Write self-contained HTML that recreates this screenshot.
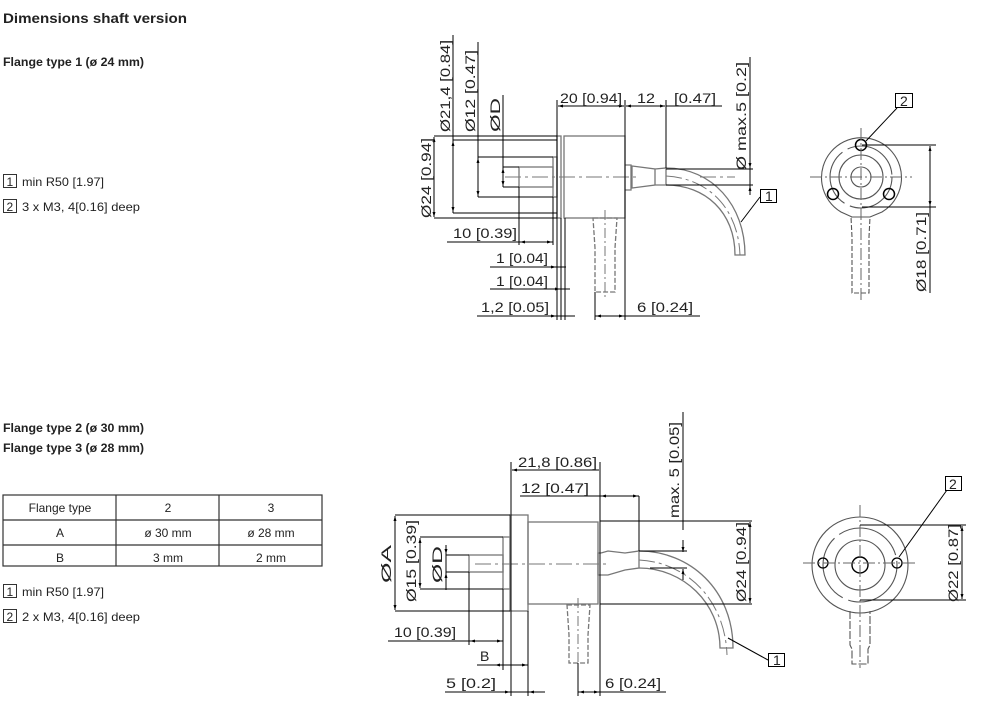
<!DOCTYPE html>
<html><head><meta charset="utf-8"><style>
html,body{margin:0;padding:0;background:#fff;}
svg{display:block;}
text{font-family:"Liberation Sans",sans-serif;fill:#222;}
.b{font-weight:bold;}
.d{font-size:14px;}
.s{font-size:12px;}
</style></head><body>
<svg width="982" height="717" viewBox="0 0 982 717" xmlns="http://www.w3.org/2000/svg">
<defs>
<marker id="a" viewBox="0 0 10 10" refX="10" refY="5" markerWidth="7" markerHeight="5" orient="auto-start-reverse"><path d="M0,2 L10,5 L0,8 z" fill="#000"/></marker>
</defs>
<text x="3" y="23" class="b" font-size="14" textLength="184" lengthAdjust="spacingAndGlyphs">Dimensions shaft version</text>
<text x="3" y="66" class="b" font-size="12" textLength="141" lengthAdjust="spacingAndGlyphs">Flange type 1 (ø 24 mm)</text>
<rect x="3.5" y="174.5" width="13" height="13" fill="none" stroke="#333"/><text x="6.5" y="186" class="s">1</text>
<text x="22" y="186" class="s" textLength="82" lengthAdjust="spacingAndGlyphs">min R50 [1.97]</text>
<rect x="3.5" y="199.5" width="13" height="13" fill="none" stroke="#333"/><text x="6.5" y="211" class="s">2</text>
<text x="22" y="211" class="s" textLength="118" lengthAdjust="spacingAndGlyphs">3 x M3, 4[0.16] deep</text>

<text x="3" y="432" class="b" font-size="12" textLength="141" lengthAdjust="spacingAndGlyphs">Flange type 2 (ø 30 mm)</text>
<text x="3" y="452" class="b" font-size="12" textLength="141" lengthAdjust="spacingAndGlyphs">Flange type 3 (ø 28 mm)</text>
<g stroke="#333" stroke-width="1.2" fill="none">
<rect x="3" y="495" width="319" height="71"/>
<line x1="3" y1="520" x2="322" y2="520"/><line x1="3" y1="545" x2="322" y2="545"/>
<line x1="116" y1="495" x2="116" y2="566"/><line x1="219" y1="495" x2="219" y2="566"/>
</g>
<g class="s" text-anchor="middle">
<text x="60" y="512">Flange type</text><text x="168" y="512">2</text><text x="271" y="512">3</text>
<text x="60" y="537">A</text><text x="168" y="537">ø 30 mm</text><text x="271" y="537">ø 28 mm</text>
<text x="60" y="562">B</text><text x="168" y="562">3 mm</text><text x="271" y="562">2 mm</text>
</g>
<rect x="3.5" y="584.5" width="13" height="13" fill="none" stroke="#333"/><text x="6.5" y="596" class="s">1</text>
<text x="22" y="596" class="s" textLength="82" lengthAdjust="spacingAndGlyphs">min R50 [1.97]</text>
<rect x="3.5" y="609.5" width="13" height="13" fill="none" stroke="#333"/><text x="6.5" y="621" class="s">2</text>
<text x="22" y="621" class="s" textLength="118" lengthAdjust="spacingAndGlyphs">2 x M3, 4[0.16] deep</text>

<g fill="none" stroke="#777" stroke-width="1.3">
<rect x="564" y="136" width="61" height="82"/>
<rect x="557" y="136" width="4" height="82"/>
<rect x="553" y="157" width="4" height="40"/>
<rect x="519" y="167" width="34" height="20"/>
<path d="M625,165 h6 v25 h-6"/>
<path d="M632,166 L655,169 V185 L632,188 z M655,169 L666,168 V185 L655,185"/>
<path d="M666,168 C712,168 745,205 745,255 H735 C735,212 705,185 666,185"/>
<path d="M593,218 h24 l-2,30 v44 h-20 v-44 z" stroke-dasharray="5,2"/>
</g>
<path d="M505,177 H640 M700,177 H735" stroke="#777" stroke-dasharray="16,4,3,4" fill="none"/>
<path d="M666,176 C705,178 738,205 740,255" stroke="#777" stroke-dasharray="16,4,3,4" fill="none"/>
<path d="M605,210 V300" stroke="#777" stroke-dasharray="10,3,2,3"/>
<g stroke="#000" stroke-width="1" fill="none">
<line x1="434" y1="136" x2="557" y2="136"/><line x1="434" y1="218" x2="557" y2="218"/>
<line x1="434" y1="137" x2="434" y2="217" marker-start="url(#a)" marker-end="url(#a)"/>
<line x1="453" y1="35" x2="453" y2="213"/><line x1="453" y1="141" x2="453" y2="212" marker-start="url(#a)" marker-end="url(#a)"/>
<line x1="453" y1="140" x2="557" y2="140"/><line x1="453" y1="213" x2="557" y2="213"/>
<line x1="478" y1="42" x2="478" y2="197"/><line x1="478" y1="158" x2="478" y2="196" marker-start="url(#a)" marker-end="url(#a)"/>
<line x1="478" y1="157" x2="553" y2="157"/><line x1="478" y1="197" x2="553" y2="197"/>
<line x1="503" y1="95" x2="503" y2="187"/><line x1="503" y1="168" x2="503" y2="186" marker-start="url(#a)" marker-end="url(#a)"/>
<line x1="503" y1="167" x2="519" y2="167"/><line x1="503" y1="187" x2="519" y2="187"/>
<line x1="557" y1="100" x2="557" y2="320"/><line x1="561" y1="218" x2="561" y2="320"/><line x1="565" y1="218" x2="565" y2="320"/>
<line x1="625" y1="100" x2="625" y2="320"/>
<line x1="666" y1="100" x2="666" y2="168"/>
<line x1="558" y1="106" x2="624" y2="106" marker-start="url(#a)" marker-end="url(#a)"/>
<line x1="626" y1="106" x2="665" y2="106" marker-start="url(#a)" marker-end="url(#a)"/>
<line x1="666" y1="106" x2="722" y2="106"/>
<line x1="750" y1="57" x2="750" y2="190"/>
<line x1="666" y1="169" x2="753" y2="169"/><line x1="666" y1="185" x2="753" y2="185"/>
<line x1="750" y1="160" x2="750" y2="168" marker-end="url(#a)"/><line x1="750" y1="195" x2="750" y2="186" marker-end="url(#a)"/>
<line x1="519" y1="187" x2="519" y2="245"/>
<line x1="447" y1="242" x2="553" y2="242"/><line x1="520" y1="242" x2="535" y2="242" marker-start="url(#a)"/><line x1="538" y1="242" x2="552" y2="242" marker-end="url(#a)"/>
<line x1="553" y1="197" x2="553" y2="245"/>
<line x1="490" y1="267" x2="566" y2="267"/><line x1="540" y1="267" x2="556" y2="267" marker-end="url(#a)"/>
<line x1="490" y1="289" x2="570" y2="289"/><line x1="545" y1="289" x2="560" y2="289" marker-end="url(#a)"/>
<line x1="477" y1="316" x2="575" y2="316"/><line x1="545" y1="316" x2="556" y2="316" marker-end="url(#a)"/>
<line x1="595" y1="316" x2="700" y2="316"/><line x1="596" y1="316" x2="624" y2="316" marker-start="url(#a)" marker-end="url(#a)"/>
<line x1="595" y1="292" x2="595" y2="320"/>
<rect x="760.5" y="189.5" width="16" height="13"/><line x1="760" y1="197" x2="741" y2="222"/>
</g>
<text x="765" y="201" class="d" font-size="13">1</text>
<g class="d">
<text x="560" y="103" textLength="62" lengthAdjust="spacingAndGlyphs">20 [0.94]</text>
<text x="637" y="103" textLength="18" lengthAdjust="spacingAndGlyphs">12</text>
<text x="674" y="103" textLength="42" lengthAdjust="spacingAndGlyphs">[0.47]</text>
<text x="453" y="238" textLength="64" lengthAdjust="spacingAndGlyphs">10 [0.39]</text>
<text x="496" y="263" textLength="52" lengthAdjust="spacingAndGlyphs">1 [0.04]</text>
<text x="496" y="286" textLength="52" lengthAdjust="spacingAndGlyphs">1 [0.04]</text>
<text x="481" y="312" textLength="68" lengthAdjust="spacingAndGlyphs">1,2 [0.05]</text>
<text x="637" y="312" textLength="56" lengthAdjust="spacingAndGlyphs">6 [0.24]</text>
<text transform="translate(450,132) rotate(-90)" textLength="92" lengthAdjust="spacingAndGlyphs">Ø21,4 [0.84]</text>
<text transform="translate(475,132) rotate(-90)" textLength="82" lengthAdjust="spacingAndGlyphs">Ø12 [0.47]</text>
<text transform="translate(500,132) rotate(-90)" textLength="34" lengthAdjust="spacingAndGlyphs">ØD</text>
<text transform="translate(431,218) rotate(-90)" textLength="80" lengthAdjust="spacingAndGlyphs">Ø24 [0.94]</text>
<text transform="translate(746,170) rotate(-90)" textLength="108" lengthAdjust="spacingAndGlyphs">Ø max.5 [0.2]</text>
</g>

<g fill="none" stroke="#555" stroke-width="1.1">
<path d="M841,212 A40,40 0 1 1 882,212 L870,217 H852 z"/>
<circle cx="861" cy="177" r="31" stroke-dasharray="60,6"/>
<circle cx="861" cy="177" r="22"/>
<circle cx="861" cy="177" r="10"/>
<circle cx="861" cy="145" r="5.5" stroke="#000" stroke-width="1.5"/>
<circle cx="833" cy="194" r="5.5" stroke="#000" stroke-width="1.5"/>
<circle cx="889" cy="194" r="5.5" stroke="#000" stroke-width="1.5"/>
<path d="M851,217 h19 l-1,20 v56 h-17 v-56 z" stroke-dasharray="5,2"/>
</g>
<path d="M861,128 V300 M810,177 H912" stroke="#666" stroke-dasharray="12,3,2,3" fill="none"/>
<g stroke="#000" fill="none">
<line x1="862" y1="145" x2="936" y2="145"/><line x1="862" y1="207" x2="936" y2="207"/>
<line x1="930" y1="146" x2="930" y2="206" marker-start="url(#a)" marker-end="url(#a)"/>
<line x1="930" y1="206" x2="930" y2="293"/>
<rect x="895.5" y="93.5" width="17" height="14"/><line x1="897" y1="108" x2="866" y2="141"/>
</g>
<text x="900" y="106" class="d" font-size="13">2</text>
<text transform="translate(926,292) rotate(-90)" class="d" textLength="80" lengthAdjust="spacingAndGlyphs">Ø18 [0.71]</text>

<g fill="none" stroke="#777" stroke-width="1.3">
<rect x="510" y="515" width="18" height="96"/>
<rect x="528" y="522" width="70" height="82"/>
<rect x="503" y="537" width="7" height="52"/>
<rect x="469" y="555" width="34" height="17"/>
<path d="M601,553 h-3 v22 h3 M601,553 L608,551 L625,553 L639,551 V568 L625,570 L608,575 L601,575"/>
<path d="M639,551 C690,551 733,590 733,648 H720 C720,603 683,568 639,568"/>
<path d="M567,605 h23 l-2,30 v28 h-19 v-28 z" stroke-dasharray="5,2"/>
</g>
<path d="M475,564 H610" stroke="#777" stroke-dasharray="16,4,3,4"/>
<path d="M639,560 C685,562 725,598 727,655" stroke="#777" stroke-dasharray="16,4,3,4" fill="none"/>
<path d="M578,598 V672" stroke="#777" stroke-dasharray="10,3,2,3"/>
<g stroke="#000" stroke-width="1" fill="none">
<line x1="395" y1="515" x2="510" y2="515"/><line x1="395" y1="611" x2="510" y2="611"/>
<line x1="395" y1="516" x2="395" y2="610" marker-start="url(#a)" marker-end="url(#a)"/>
<line x1="420" y1="537" x2="503" y2="537"/><line x1="420" y1="589" x2="503" y2="589"/>
<line x1="420" y1="538" x2="420" y2="588" marker-start="url(#a)" marker-end="url(#a)"/>
<line x1="446" y1="555" x2="469" y2="555"/><line x1="446" y1="572" x2="469" y2="572"/>
<line x1="446" y1="545" x2="446" y2="554" marker-end="url(#a)"/><line x1="446" y1="582" x2="446" y2="573" marker-end="url(#a)"/>
<line x1="446" y1="545" x2="446" y2="590"/>
<line x1="511" y1="462" x2="511" y2="696"/><line x1="528" y1="611" x2="528" y2="696"/>
<line x1="503" y1="589" x2="503" y2="670"/><line x1="469" y1="572" x2="469" y2="645"/>
<line x1="600" y1="462" x2="600" y2="696"/>
<line x1="512" y1="470" x2="599" y2="470" marker-start="url(#a)"/>
<line x1="520" y1="496" x2="639" y2="496"/><line x1="601" y1="496" x2="638" y2="496" marker-start="url(#a)" marker-end="url(#a)"/>
<line x1="639" y1="496" x2="639" y2="551"/>
<line x1="683" y1="412" x2="683" y2="530"/>
<line x1="639" y1="551" x2="687" y2="551"/><line x1="650" y1="568" x2="687" y2="568"/>
<line x1="683" y1="540" x2="683" y2="552" marker-end="url(#a)"/><line x1="683" y1="580" x2="683" y2="569" marker-end="url(#a)"/>
<line x1="600" y1="521" x2="752" y2="521"/><line x1="600" y1="604" x2="752" y2="604"/>
<line x1="750" y1="522" x2="750" y2="603" marker-start="url(#a)" marker-end="url(#a)"/>
<line x1="388" y1="641" x2="503" y2="641"/><line x1="470" y1="641" x2="485" y2="641" marker-start="url(#a)"/><line x1="488" y1="641" x2="502" y2="641" marker-end="url(#a)"/>
<line x1="477" y1="665" x2="528" y2="665"/><line x1="495" y1="665" x2="504" y2="665" marker-start="url(#a)"/><line x1="515" y1="665" x2="527" y2="665" marker-end="url(#a)"/>
<line x1="445" y1="692" x2="545" y2="692"/><line x1="498" y1="692" x2="510" y2="692" marker-end="url(#a)"/><line x1="529" y1="692" x2="541" y2="692" marker-start="url(#a)"/>
<line x1="578" y1="692" x2="666" y2="692"/><line x1="579" y1="692" x2="599" y2="692" marker-start="url(#a)" marker-end="url(#a)"/>
<line x1="578" y1="663" x2="578" y2="696"/>
<rect x="768.5" y="653.5" width="16" height="13"/><line x1="768" y1="660" x2="728" y2="638"/>
</g>
<text x="773" y="665" class="d" font-size="13">1</text>
<g class="d">
<text x="518" y="467" textLength="79" lengthAdjust="spacingAndGlyphs">21,8 [0.86]</text>
<text x="521" y="493" textLength="68" lengthAdjust="spacingAndGlyphs">12 [0.47]</text>
<text x="394" y="637" textLength="62" lengthAdjust="spacingAndGlyphs">10 [0.39]</text>
<text x="480" y="661">B</text>
<text x="446" y="688" textLength="50" lengthAdjust="spacingAndGlyphs">5 [0.2]</text>
<text x="605" y="688" textLength="56" lengthAdjust="spacingAndGlyphs">6 [0.24]</text>
<text transform="translate(391,583) rotate(-90)" textLength="38" lengthAdjust="spacingAndGlyphs">ØA</text>
<text transform="translate(416,602) rotate(-90)" textLength="82" lengthAdjust="spacingAndGlyphs">Ø15 [0.39]</text>
<text transform="translate(442,583) rotate(-90)" textLength="37" lengthAdjust="spacingAndGlyphs">ØD</text>
<text transform="translate(679,518) rotate(-90)" textLength="96" lengthAdjust="spacingAndGlyphs">max. 5 [0.05]</text>
<text transform="translate(746,602) rotate(-90)" textLength="80" lengthAdjust="spacingAndGlyphs">Ø24 [0.94]</text>
</g>

<g fill="none" stroke="#555" stroke-width="1.1">
<circle cx="860" cy="565" r="48"/>
<circle cx="860" cy="565" r="37" stroke-dasharray="70,6"/>
<circle cx="860" cy="565" r="25"/>
<circle cx="860" cy="565" r="8" stroke="#000" stroke-width="1.4"/>
<circle cx="823" cy="563" r="5" stroke="#000" stroke-width="1.3"/>
<circle cx="897" cy="563" r="5" stroke="#000" stroke-width="1.3"/>
<path d="M850,611 V645 l2,4 v15 h16 v-15 l2,-4 V611" stroke-dasharray="8,2"/>
</g>
<path d="M860,505 V668 M803,563 H918" stroke="#666" stroke-dasharray="12,3,2,3" fill="none"/>
<g stroke="#000" fill="none">
<line x1="860" y1="525" x2="966" y2="525"/><line x1="860" y1="600" x2="966" y2="600"/>
<line x1="962" y1="526" x2="962" y2="599" marker-start="url(#a)" marker-end="url(#a)"/>
<rect x="945.5" y="476.5" width="16" height="14"/><line x1="947" y1="490" x2="899" y2="557"/>
</g>
<text x="949" y="489" class="d" font-size="13">2</text>
<text transform="translate(958,602) rotate(-90)" class="d" textLength="78" lengthAdjust="spacingAndGlyphs">Ø22 [0.87]</text>
</svg>
</body></html>
